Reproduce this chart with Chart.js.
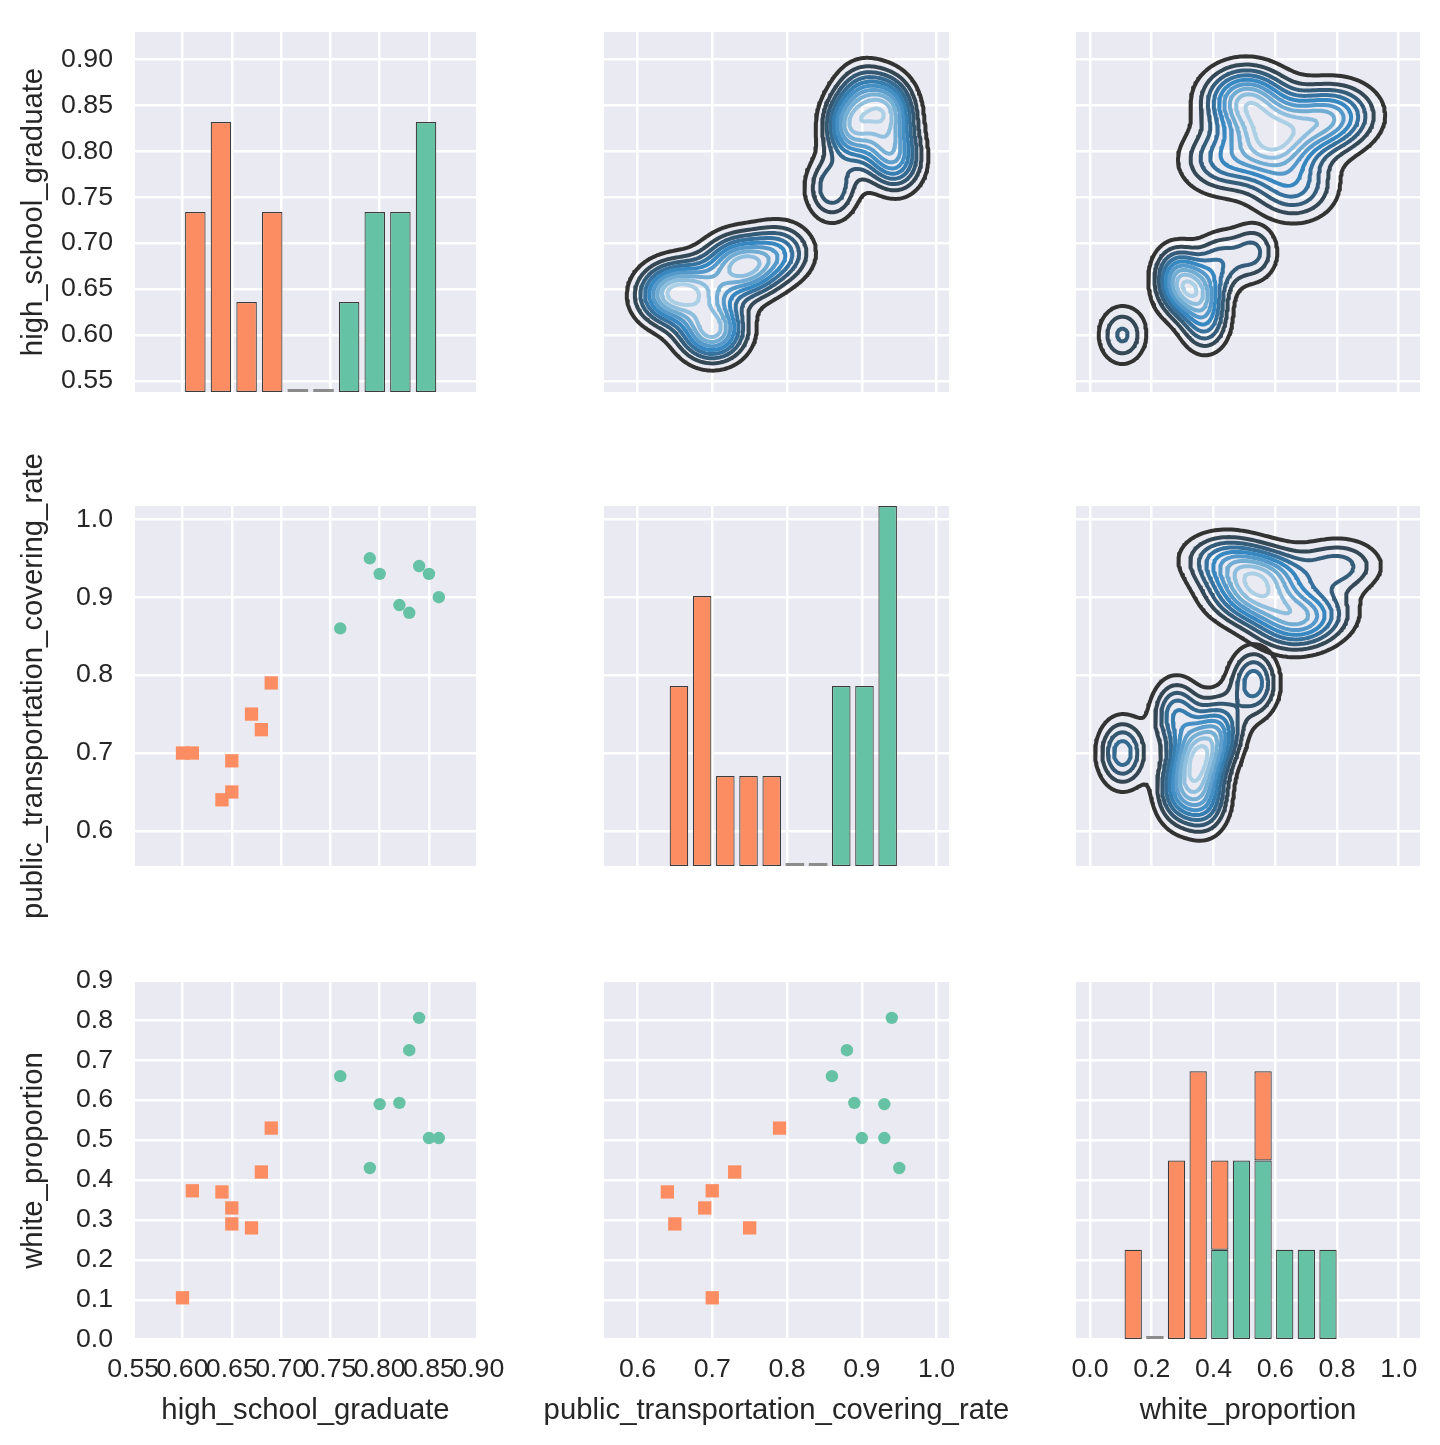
<!DOCTYPE html>
<html>
<head>
<meta charset="UTF-8">
<title>pairplot</title>
<script src="https://cdn.jsdelivr.net/npm/chart.js@4.4.1/dist/chart.umd.min.js"></script>
<style>
  html, body { margin: 0; padding: 0; background: #ffffff; }
  body { position: relative; width: 1440px; height: 1445px; overflow: hidden; }
  canvas { position: absolute; }
</style>
</head>
<body>
<script>
// ---- values (16 rows, two groups) ----
var varNames = ['high_school_graduate', 'public_transportation_covering_rate', 'white_proportion'];

// green group (circles)
var greenHighSchool = [0.76, 0.79, 0.80, 0.82, 0.83, 0.84, 0.85, 0.86];
var greenTransport  = [0.86, 0.95, 0.93, 0.89, 0.88, 0.94, 0.93, 0.90];
var greenWhite      = [0.66, 0.43, 0.59, 0.593, 0.725, 0.806, 0.505, 0.505];

// orange group (squares)
var orangeHighSchool = [0.60, 0.61, 0.64, 0.65, 0.65, 0.67, 0.68, 0.69];
var orangeTransport  = [0.70, 0.70, 0.64, 0.69, 0.65, 0.75, 0.73, 0.79];
var orangeWhite      = [0.105, 0.373, 0.37, 0.33, 0.29, 0.28, 0.42, 0.53];

// tick labels
var highSchoolTicks = [0.55, 0.60, 0.65, 0.70, 0.75, 0.80, 0.85, 0.90];
var transportTicks  = [0.6, 0.7, 0.8, 0.9, 1.0];
var whiteTicksX     = [0.0, 0.2, 0.4, 0.6, 0.8, 1.0];
var whiteTicksY     = [0.0, 0.1, 0.2, 0.3, 0.4, 0.5, 0.6, 0.7, 0.8, 0.9];

var greenCols  = [greenHighSchool, greenTransport, greenWhite];
var orangeCols = [orangeHighSchool, orangeTransport, orangeWhite];

// ---- layout ----
var colBox  = [[135, 341], [604, 345], [1076, 344]];   // left, width of plot area
var rowBox  = [[32, 360], [506, 360], [982, 357]];     // top, height of plot area
var xLimits = [[0.5518, 0.8977], [0.5553, 1.0165], [-0.0453, 1.0689]];
var yLimits = [[0.538, 0.9297], [0.555, 1.0171], [0.0018, 0.8958]];
var xTicks  = [highSchoolTicks, transportTicks, whiteTicksX];
var yTicks  = [highSchoolTicks, transportTicks, whiteTicksY];
var decimals = [2, 1, 1];

var LPAD = 135, TPAD = 60, RPAD = 80, BPAD = 100;
var FONT = "'Liberation Sans', Arial, Helvetica, sans-serif";
var TEXT = '#262626';
var GREEN = '#66c2a5', ORANGE = '#fc8d62';

// background + axis titles
var panelPlugin = {
  id: 'panel',
  beforeDraw: function (chart) {
    var a = chart.chartArea, ctx = chart.ctx;
    ctx.save();
    ctx.fillStyle = '#eaeaf2';
    ctx.fillRect(a.left, a.top, a.right - a.left, a.bottom - a.top);
    ctx.restore();
  },
  afterDraw: function (chart, args, opts) {
    var a = chart.chartArea, ctx = chart.ctx;
    ctx.save();
    ctx.fillStyle = TEXT;
    ctx.font = '29.3px ' + FONT;
    ctx.textAlign = 'center';
    ctx.textBaseline = 'alphabetic';
    if (opts.xTitle) ctx.fillText(opts.xTitle, (a.left + a.right) / 2, a.bottom + 80);
    if (opts.yTitle) {
      ctx.translate(a.left - 93, (a.top + a.bottom) / 2);
      ctx.rotate(-Math.PI / 2);
      ctx.fillText(opts.yTitle, 0, 0);
    }
    ctx.restore();
  }
};

function axisOptions(pos, limits, ticks, dec, showLabels) {
  return {
    type: 'linear', position: pos, min: limits[0], max: limits[1],
    bounds: 'data', beginAtZero: false, offset: false,
    grid: {color: '#ffffff', lineWidth: 2.5, drawTicks: false, offset: false},
    border: {display: false},
    ticks: {
      display: showLabels, autoSkip: false, maxRotation: 0, minRotation: 0,
      padding: pos === 'left' ? 22 : 15, color: TEXT,
      font: {family: FONT, size: 26.7},
      callback: function (v) { return v.toFixed(dec); }
    },
    afterBuildTicks: function (s) { s.ticks = ticks.map(function (v) { return {value: v}; }); },
    afterFit: function (s) { if (pos === 'left') s.width = LPAD; else s.height = BPAD; }
  };
}

function zip(xs, ys) {
  return xs.map(function (x, i) { return {x: x, y: ys[i]}; });
}

// ---- histogram (stacked, shared bins like plt.hist barstacked) ----
function histBins(values, nb) {
  var lo = Math.min.apply(null, values), hi = Math.max.apply(null, values);
  var w = (hi - lo) / nb, centers = [];
  for (var k = 0; k < nb; k++) centers.push(lo + (k + 0.5) * w);
  return {lo: lo, w: w, nb: nb, centers: centers};
}
function histCounts(bins, vals) {
  var counts = [];
  for (var k = 0; k < bins.nb; k++) counts.push(0);
  vals.forEach(function (v) {
    var k = Math.floor((v - bins.lo) / bins.w);
    if (k >= bins.nb) k = bins.nb - 1;
    counts[k]++;
  });
  return counts;
}

// ---- bivariate kde (product gaussian, scott bandwidth per axis) ----
function quantile(sorted, p) {
  var idx = p * (sorted.length - 1), lo = Math.floor(idx), hi = Math.ceil(idx);
  return sorted[lo] + (sorted[hi] - sorted[lo]) * (idx - lo);
}
function scottBw(v) {
  var n = v.length, mean = 0, ss = 0;
  v.forEach(function (x) { mean += x / n; });
  v.forEach(function (x) { ss += (x - mean) * (x - mean); });
  var sd = Math.sqrt(ss / (n - 1));
  var s = v.slice().sort(function (a, b) { return a - b; });
  var iqr = (quantile(s, 0.75) - quantile(s, 0.25)) / 1.349;
  return 1.059 * Math.min(sd, iqr) * Math.pow(n, -0.2);
}
function linspace(a, b, n) {
  var out = [];
  for (var i = 0; i < n; i++) out.push(a + (b - a) * i / (n - 1));
  return out;
}
function kdeGrid(xs, ys) {
  var n = xs.length, hx = scottBw(xs), hy = scottBw(ys), G = 100, cut = 3;
  var gx = linspace(Math.min.apply(null, xs) - cut * hx, Math.max.apply(null, xs) + cut * hx, G);
  var gy = linspace(Math.min.apply(null, ys) - cut * hy, Math.max.apply(null, ys) + cut * hy, G);
  var z = [], zmax = 0, norm = n * 2 * Math.PI * hx * hy;
  for (var j = 0; j < G; j++) {
    var row = [];
    for (var i = 0; i < G; i++) {
      var s = 0;
      for (var k = 0; k < n; k++) {
        var u = (gx[i] - xs[k]) / hx, w = (gy[j] - ys[k]) / hy;
        s += Math.exp(-0.5 * (u * u + w * w));
      }
      s /= norm;
      row.push(s);
      if (s > zmax) zmax = s;
    }
    z.push(row);
  }
  return {gx: gx, gy: gy, z: z, zmax: zmax};
}
// matplotlib-like automatic levels (MaxNLocator with 11 bins), only those inside (0, zmax)
function contourLevels(zmax) {
  var raw = zmax / 11, scale = Math.pow(10, Math.floor(Math.log10(raw)));
  var steps = [1, 1.5, 2, 2.5, 3, 4, 5, 6, 8, 10], step = 10 * scale;
  for (var i = 0; i < steps.length; i++) {
    if (steps[i] * scale >= raw * (1 - 1e-9)) { step = steps[i] * scale; break; }
  }
  var lev = [];
  for (var k = 1; k * step < zmax; k++) lev.push(k * step);
  return lev;
}
// Blues_d : #333333 -> Blues(2/3) -> Blues(1/3)
var cmapStops = [[51, 51, 51], [55, 135, 192], [171, 208, 230]];
function cmap(t) {
  var p = t * 2, i = Math.min(1, Math.floor(p)), f = p - i;
  var a = cmapStops[i], b = cmapStops[i + 1];
  return 'rgb(' + [0, 1, 2].map(function (c) { return Math.round(a[c] + (b[c] - a[c]) * f); }).join(',') + ')';
}
// marching squares, segments joined into polylines; gaps as null points
function contourPath(g, level) {
  var gx = g.gx, gy = g.gy, z = g.z, nx = gx.length, ny = gy.length;
  var pts = {}, segs = [];
  function ep(id, x1, y1, v1, x2, y2, v2) {
    if (!(id in pts)) {
      var t = (level - v1) / (v2 - v1);
      pts[id] = [x1 + t * (x2 - x1), y1 + t * (y2 - y1)];
    }
    return id;
  }
  for (var j = 0; j < ny - 1; j++) {
    for (var i = 0; i < nx - 1; i++) {
      var a = z[j][i], b = z[j][i + 1], c = z[j + 1][i + 1], d = z[j + 1][i];
      var A = a > level, B = b > level, C = c > level, D = d > level;
      if (A === B && B === C && C === D) continue;
      var e = {};
      if (A !== B) e.B = ep('h' + i + '_' + j, gx[i], gy[j], a, gx[i + 1], gy[j], b);
      if (B !== C) e.R = ep('v' + (i + 1) + '_' + j, gx[i + 1], gy[j], b, gx[i + 1], gy[j + 1], c);
      if (D !== C) e.T = ep('h' + i + '_' + (j + 1), gx[i], gy[j + 1], d, gx[i + 1], gy[j + 1], c);
      if (A !== D) e.L = ep('v' + i + '_' + j, gx[i], gy[j], a, gx[i], gy[j + 1], d);
      var keys = Object.keys(e);
      if (keys.length === 2) {
        segs.push([e[keys[0]], e[keys[1]]]);
      } else if (keys.length === 4) {
        var centre = (a + b + c + d) / 4 > level;
        if (centre === A) { segs.push([e.B, e.R]); segs.push([e.T, e.L]); }
        else { segs.push([e.B, e.L]); segs.push([e.R, e.T]); }
      }
    }
  }
  var adj = {};
  segs.forEach(function (s, k) {
    (adj[s[0]] = adj[s[0]] || []).push(k);
    (adj[s[1]] = adj[s[1]] || []).push(k);
  });
  var used = segs.map(function () { return false; });
  function grow(line) {
    for (;;) {
      var cur = line[line.length - 1], next = -1;
      (adj[cur] || []).forEach(function (k) { if (!used[k] && next < 0) next = k; });
      if (next < 0) return;
      used[next] = true;
      line.push(segs[next][0] === cur ? segs[next][1] : segs[next][0]);
    }
  }
  var data = [];
  for (var k = 0; k < segs.length; k++) {
    if (used[k]) continue;
    used[k] = true;
    var line = [segs[k][0], segs[k][1]];
    grow(line);
    line.reverse();
    grow(line);
    line.forEach(function (id) { data.push({x: pts[id][0], y: pts[id][1]}); });
    data.push({x: null, y: null});
  }
  return data;
}
function kdeDatasets(xs, ys) {
  var g = kdeGrid(xs, ys), lev = contourLevels(g.zmax), out = [];
  var first = lev[0], span = lev[lev.length - 1] - first || 1;
  lev.forEach(function (L, k) {
    var data = contourPath(g, L);
    if (!data.length) return;
    out.push({
      data: data, showLine: true, pointRadius: 0, pointHitRadius: 0,
      borderColor: cmap((L - first) / span), borderWidth: 4,
      borderJoinStyle: 'round', borderCapStyle: 'round',
      spanGaps: false, tension: 0, clip: 0, order: -k
    });
  });
  return out;
}

// ---- build the 3x3 grid ----
function makePanel(r, c) {
  var canvas = document.createElement('canvas');
  var W = colBox[c][1] + LPAD + RPAD, H = rowBox[r][1] + TPAD + BPAD;
  canvas.width = W; canvas.height = H;
  canvas.style.left = (colBox[c][0] - LPAD) + 'px';
  canvas.style.top = (rowBox[r][0] - TPAD) + 'px';
  canvas.style.width = W + 'px'; canvas.style.height = H + 'px';
  document.body.appendChild(canvas);

  var scales = {
    x: axisOptions('bottom', xLimits[c], xTicks[c], decimals[c], r === 2),
    y: axisOptions('left', yLimits[r], yTicks[r], decimals[r], c === 0)
  };
  var type, datasets;

  if (r === c) {
    type = 'bar';
    var bins = histBins(greenCols[c].concat(orangeCols[c]), 10);
    var gCnt = histCounts(bins, greenCols[c]), oCnt = histCounts(bins, orangeCols[c]);
    var empty = [];
    bins.centers.forEach(function (x, k) { if (gCnt[k] + oCnt[k] === 0) empty.push({x: x, y: 0}); });
    var barStyle = {yAxisID: 'yc', stack: 'h', categoryPercentage: 1, barPercentage: 0.8,
      borderColor: '#3c3c3c', borderWidth: 1.2, borderSkipped: false};
    datasets = [
      Object.assign({data: bins.centers.map(function (x, k) { return {x: x, y: gCnt[k]}; }), backgroundColor: GREEN}, barStyle),
      Object.assign({data: bins.centers.map(function (x, k) { return {x: x, y: oCnt[k]}; }), backgroundColor: ORANGE}, barStyle),
      {data: empty, yAxisID: 'yc', stack: 'h', categoryPercentage: 1, barPercentage: 0.8,
        backgroundColor: '#8c8c8c', borderWidth: 0, minBarLength: 3}
    ];
    scales.yc = {type: 'linear', axis: 'y', position: 'left', display: false, min: 0, max: 4, stacked: true};
  } else if (r > c) {
    type = 'scatter';
    datasets = [
      {data: zip(greenCols[c], greenCols[r]), pointStyle: 'circle', pointRadius: 6.2,
        backgroundColor: GREEN, borderWidth: 0},
      {data: zip(orangeCols[c], orangeCols[r]), pointStyle: 'rect', pointRadius: 9.4,
        backgroundColor: ORANGE, borderWidth: 0}
    ];
  } else {
    type = 'scatter';
    // one kde per group, like map_upper(kdeplot) with hue
    datasets = kdeDatasets(greenCols[c], greenCols[r]).concat(kdeDatasets(orangeCols[c], orangeCols[r]));
  }

  new Chart(canvas, {
    type: type,
    data: {datasets: datasets},
    options: {
      responsive: false, animation: false, events: [],
      layout: {padding: {top: TPAD, right: RPAD, bottom: 0, left: 0}},
      plugins: {
        legend: {display: false}, tooltip: {enabled: false},
        panel: {xTitle: r === 2 ? varNames[c] : null, yTitle: c === 0 ? varNames[r] : null}
      },
      scales: scales
    },
    plugins: [panelPlugin]
  });
}

for (var r = 0; r < 3; r++) {
  for (var c = 0; c < 3; c++) makePanel(r, c);
}
</script>
</body>
</html>
